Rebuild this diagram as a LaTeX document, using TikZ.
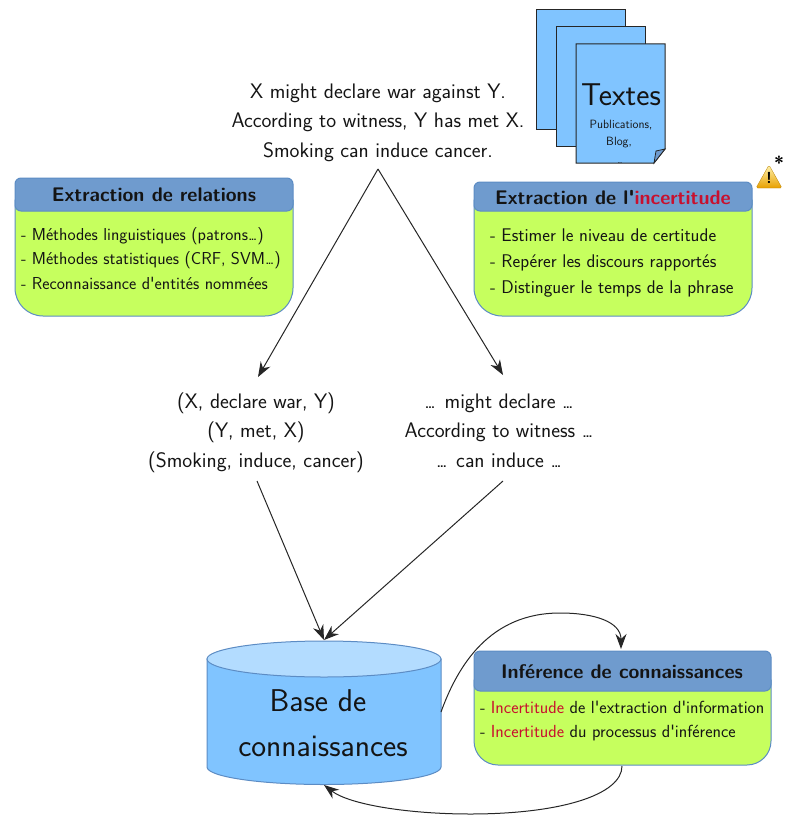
\documentclass[tikz,border=0pt]{standalone}
\usepackage{fontspec}
\usetikzlibrary{arrows.meta,shapes.geometric}
\definecolor{docblue}{HTML}{80C4FF}
\definecolor{cyltop}{HTML}{B3DCFF}
\definecolor{headblue}{HTML}{6F9BCE}
\definecolor{bodygreen}{HTML}{C6FF5E}
\definecolor{edgeblue}{HTML}{5C8CC4}
\definecolor{redtxt}{HTML}{C8102E}
\definecolor{txt}{HTML}{141414}
\definecolor{warnlow}{HTML}{E8A000}
\definecolor{warnhigh}{HTML}{FFF4B0}
\tikzset{
  x=1pt,y=-1pt,
  every node/.style={inner sep=0pt,outer sep=0pt,font=\sffamily,text=txt},
  arr/.style={draw=black!85,line width=1pt,-{Stealth[length=15pt,width=11pt]}},
  doc/.style={draw=black!85,line width=1pt,fill=docblue},
  tline/.style={font=\fontsize{21}{24}\sffamily,anchor=base},
  boxh/.style={font=\fontsize{19.7}{22}\sffamily\bfseries,anchor=base},
  bodybox/.style={fill=bodygreen,draw=edgeblue,line width=1pt},
  headbox/.style={fill=headblue,draw=edgeblue,line width=1pt,rounded corners=6pt},
  big/.style={font=\fontsize{31.5}{34}\sffamily,anchor=base}
}
\newcommand{\rb}[1]{\textcolor{redtxt}{#1}}
\newcommand{\lfs}{\fontsize{17.3}{20}\sffamily}
\newcommand{\rfs}{\fontsize{18.35}{20}\sffamily}
\newcommand{\ifs}{\fontsize{17.5}{20}\sffamily}
\newcommand{\dd}{.\kern-0.12em.\kern-0.12em.}
\newcommand{\qq}{\textquotesingle}
\begin{document}
\begin{tikzpicture}
\useasboundingbox (0,0) rectangle (784,816);
% documents
\draw[doc] (536,10) rectangle (625,129);
\draw[doc] (556,27) rectangle (645,146);
\draw[doc] (576,44) -- (665,44) -- (665,149) -- (654,163) -- (576,163) -- cycle;
\draw[draw=black!85,line width=0.8pt,fill=headblue] (665,149) -- (656,151) -- (654,163) -- cycle;
\node[font=\fontsize{31.5}{34}\sffamily,anchor=base] (tx) at (621,105) {Textes};
\node[font=\fontsize{12}{14}\sffamily,anchor=base] (pb) at (621,128) {Publications,};
\node[font=\fontsize{12}{14}\sffamily,anchor=base] (bl) at (619,145) {Blog,};
\node[font=\fontsize{8}{10}\sffamily,anchor=base] (dots) at (620,163) {\dd};
% sentences
\node[tline] (s1) at (378,98) {X might declare war against Y.};
\node[tline] (s2) at (378,127) {According to witness, Y has met X.};
\node[tline] (s3) at (378,157) {Smoking can induce cancer.};
\coordinate (top) at (378,169);
% left box
\draw[bodybox] (15,200) -- (15,288) arc[start angle=180,end angle=90,radius=28] -- (265,316) arc[start angle=90,end angle=0,radius=28] -- (293,200) -- cycle;
\path[headbox] (15,211) -- (15,178) -- (293,178) -- (293,211) -- cycle;
\node[boxh] (h1) at (154,201) {Extraction de relations};
\node[font=\lfs,anchor=base west] (l1) at (21,240) {- Méthodes linguistiques (patrons\dd)};
\node[font=\lfs,anchor=base west] (l2) at (21,264) {- Méthodes statistiques (CRF, SVM\dd)};
\node[font=\lfs,anchor=base west] (l3) at (21,289) {- Reconnaissance d\qq entités nommées};
% right box
\draw[bodybox] (474,200) -- (474,288) arc[start angle=180,end angle=90,radius=28] -- (724,316) arc[start angle=90,end angle=0,radius=28] -- (752,200) -- cycle;
\path[headbox] (474,211) -- (474,182) -- (752,182) -- (752,211) -- cycle;
\node[boxh] (h2) at (613,204) {Extraction de l\qq\rb{incertitude}};
\node[font=\rfs,anchor=base west] (r1) at (490,241) {- Estimer le niveau de certitude};
\node[font=\rfs,anchor=base west] (r2) at (490,267) {- Repérer les discours rapportés};
\node[font=\rfs,anchor=base west] (r3) at (490,293) {- Distinguer le temps de la phrase};
% warning
\shade[top color=warnhigh,bottom color=warnlow,draw=warnlow!80!black,line width=0.3pt,rounded corners=1.5pt] (769,165) -- (756,188) -- (782,188) -- cycle;
\node[font=\fontsize{16}{16}\sffamily\bfseries,text=black,anchor=center] (warn) at (769,178) {!};
\node[font=\fontsize{18}{18}\sffamily\bfseries,text=black,anchor=east] (star) at (784,163) {*};
% middle
\node[tline] (m1) at (256,408) {(X, declare war, Y)};
\node[tline] (m2) at (256,437) {(Y, met, X)};
\node[tline] (m3) at (256,467) {(Smoking, induce, cancer)};
\node[tline] (n1) at (499,408) {\dd{} might declare \dd};
\node[tline] (n2) at (499,437) {According to witness \dd};
\node[tline] (n3) at (499,467) {\dd{} can induce \dd};
\coordinate (la) at (258,377);
\coordinate (ra) at (503,375);
\coordinate (lb) at (257,481);
\coordinate (rb) at (503,481);
\draw[arr] (top) -- (la);
\draw[arr] (top) -- (ra);
% cylinder
\coordinate (dbtop) at (324,640);
\coordinate (dbbot) at (324,785);
\coordinate (dbright) at (441,712);
\draw[fill=docblue,draw=edgeblue,line width=1pt] (207,659) -- (207,767) arc[start angle=180,end angle=0,x radius=117,y radius=17.5] -- (441,659) -- cycle;
\draw[fill=cyltop,draw=edgeblue,line width=1pt] (324,659) ellipse[x radius=117,y radius=18];
\node[big] (b1) at (318,711) {Base de};
\node[big] (b2) at (323,756) {connaissances};
\draw[arr] (lb) -- (dbtop);
\draw[arr] (rb) -- (dbtop);
% inference box
\draw[bodybox] (474,680) -- (474,741) arc[start angle=180,end angle=90,radius=24] -- (747,765) arc[start angle=90,end angle=0,radius=24] -- (771,680) -- cycle;
\path[headbox] (474,691) -- (474,651) -- (771,651) -- (771,691) -- cycle;
\node[boxh] (h3) at (622,678) {Inférence de connaissances};
\node[font=\ifs,anchor=base west] (i1) at (480,713) {- \rb{Incertitude} de l\qq extraction d\qq information};
\node[font=\ifs,anchor=base west] (i2) at (480,737) {- \rb{Incertitude} du processus d\qq inférence};
\coordinate (infT) at (621,649);
\coordinate (infB) at (622,766);
\draw[arr] (dbright) .. controls (458,665) and (490,613) .. (560,613) .. controls (595,613) and (621,622) .. (infT);
\draw[arr] (infB) .. controls (622,795) and (560,814) .. (470,814) .. controls (410,814) and (350,805) .. (dbbot);
\end{tikzpicture}
\end{document}
